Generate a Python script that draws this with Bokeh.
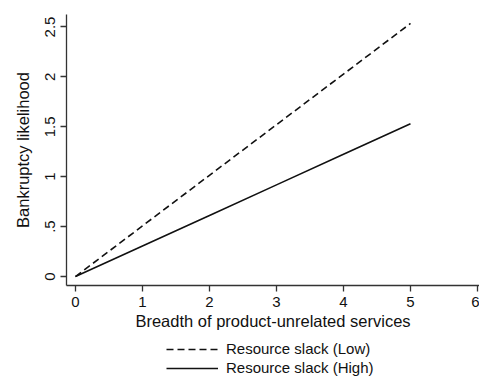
from bokeh.plotting import figure
from bokeh.layouts import column
from bokeh.models import Legend, LegendItem, FixedTicker, Range1d
from bokeh.embed import file_html
from bokeh.resources import INLINE

breadth = [0, 1, 2, 3, 4, 5]
slack_low = [0, 0.507, 1.014, 1.521, 2.028, 2.535]
slack_high = [0, 0.306, 0.612, 0.918, 1.224, 1.53]
x_ticks = [0, 1, 2, 3, 4, 5, 6]
y_ticks = [0, 0.5, 1, 1.5, 2, 2.5]
y_tick_labels = ["0", ".5", "1", "1.5", "2", "2.5"]
legend_labels = ["Resource slack (Low)", "Resource slack (High)"]

FONT = "Liberation Sans"
INK = "#111111"

p = figure(frame_width=413, frame_height=271, output_backend="svg", toolbar_location=None,
           x_range=Range1d(-0.134, 6.03), y_range=Range1d(-0.09, 2.625),
           min_border_left=66, min_border_right=0, min_border_top=14, min_border_bottom=50)
p.outline_line_color = None
p.xgrid.visible = False
p.ygrid.visible = False

p.line(breadth, slack_low, line_color=INK, line_width=1.6, line_dash="7 4")
p.line(breadth, slack_high, line_color=INK, line_width=1.6)

for ax in (p.xaxis[0], p.yaxis[0]):
    ax.axis_line_color = "#333333"
    ax.axis_line_width = 1.3
    ax.major_tick_line_color = "#333333"
    ax.major_tick_line_width = 1.3
    ax.major_tick_out = 6
    ax.major_tick_in = 0
    ax.minor_tick_line_color = None
    ax.major_label_text_font = FONT
    ax.major_label_text_font_size = "15px"
    ax.major_label_text_color = INK
    ax.axis_label_text_font = FONT
    ax.axis_label_text_font_size = "16.5px"
    ax.axis_label_text_font_style = "normal"
    ax.axis_label_text_color = INK

p.xaxis.ticker = FixedTicker(ticks=x_ticks)
p.yaxis.ticker = FixedTicker(ticks=y_ticks)
p.yaxis.major_label_overrides = {t: l for t, l in zip(y_ticks, y_tick_labels)}
p.yaxis.major_label_orientation = "vertical"
p.xaxis.axis_label = "Breadth of product-unrelated services"
p.yaxis.axis_label = "Bankruptcy likelihood"
p.xaxis.axis_label_standoff = 2
p.yaxis.axis_label_standoff = 11

# legend strip below the chart
q = figure(width=479, height=41, output_backend="svg", toolbar_location=None,
           x_range=Range1d(100, 101), y_range=Range1d(100, 101),
           x_axis_location=None, y_axis_location=None,
           min_border=0, min_border_left=0, min_border_right=0,
           min_border_top=0, min_border_bottom=0)
q.outline_line_color = None
q.xgrid.visible = False
q.ygrid.visible = False
l_low = q.line(breadth, slack_low, line_color=INK, line_width=1.6, line_dash="7 4")
l_high = q.line(breadth, slack_high, line_color=INK, line_width=1.6)

legend = Legend(items=[LegendItem(label=legend_labels[0], renderers=[l_low]),
                       LegendItem(label=legend_labels[1], renderers=[l_high])],
                location=(100, 0), orientation="vertical",
                border_line_color=None, background_fill_alpha=0,
                label_text_font=FONT, label_text_font_size="15px",
                label_text_color=INK, glyph_width=52, glyph_height=16,
                label_height=16, spacing=2, padding=2, margin=0, label_standoff=8)
q.add_layout(legend, "center")

layout = column(p, q, spacing=0)
open("out.html", "w").write(file_html(layout, INLINE))
